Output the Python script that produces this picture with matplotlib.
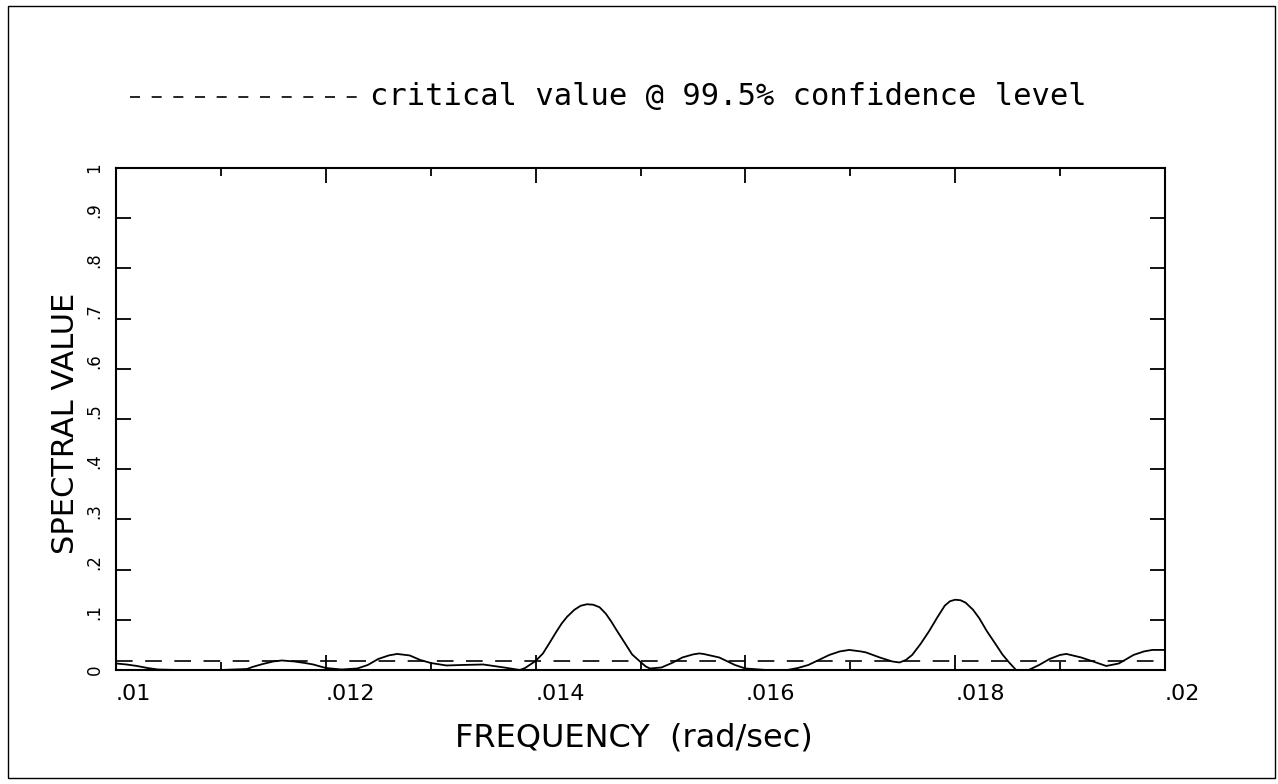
import numpy as np
import matplotlib
matplotlib.use("Agg")
import matplotlib.pyplot as plt
from matplotlib.lines import Line2D
from matplotlib.patches import Rectangle

# --------------------------------------------
# 1. DATA
# --------------------------------------------
freq = [0.0100, 0.0101, 0.0102, 0.0103, 0.0104, 0.0106, 0.0108, 0.0110,
        0.01125, 0.0113, 0.0114, 0.0115, 0.01158, 0.0117, 0.0118, 0.01188,
        0.0120, 0.01215, 0.0123, 0.0124, 0.0125, 0.0126, 0.01268, 0.0128,
        0.0129, 0.0130, 0.01315, 0.0133, 0.0135, 0.0136, 0.0137, 0.01385,
        0.0139, 0.0140, 0.01407, 0.01413, 0.0142, 0.01425, 0.0143, 0.01437,
        0.01443, 0.01449, 0.01455, 0.01461, 0.01467, 0.01472, 0.01477, 0.01485,
        0.01492, 0.0150, 0.01505, 0.01509, 0.0152, 0.0153, 0.0154, 0.0155,
        0.01556, 0.0156, 0.01575, 0.0159, 0.0160, 0.0162, 0.0164, 0.0165,
        0.0166, 0.0167, 0.0168, 0.0169, 0.01699, 0.0171, 0.01715, 0.01728,
        0.0174, 0.01747, 0.01753, 0.01759, 0.01767, 0.01775, 0.01783, 0.0179,
        0.01795, 0.0180, 0.01805, 0.0181, 0.01817, 0.01823, 0.0183, 0.01839,
        0.01845, 0.01851, 0.01858, 0.0187, 0.0188, 0.0189, 0.0190, 0.01906,
        0.0192, 0.0193, 0.01944, 0.01956, 0.0197, 0.0198, 0.01988, 0.0200]
spectral = [0.013, 0.011, 0.008, 0.004, 0.001, 0.0, 0.0, 0.0,
            0.002, 0.006, 0.012, 0.017, 0.019, 0.017, 0.014, 0.011,
            0.004, 0.001, 0.003, 0.010, 0.022, 0.029, 0.032, 0.029,
            0.020, 0.014, 0.009, 0.010, 0.011, 0.008, 0.005, 0.0,
            0.004, 0.018, 0.033, 0.053, 0.077, 0.093, 0.106, 0.120,
            0.128, 0.131, 0.130, 0.125, 0.112, 0.097, 0.080, 0.054,
            0.031, 0.016, 0.007, 0.003, 0.005, 0.014, 0.025, 0.031,
            0.033, 0.032, 0.025, 0.010, 0.003, 0.0, 0.0, 0.004,
            0.010, 0.020, 0.030, 0.037, 0.040, 0.037, 0.035, 0.025,
            0.017, 0.015, 0.020, 0.030, 0.052, 0.077, 0.105, 0.128,
            0.137, 0.140, 0.139, 0.134, 0.120, 0.103, 0.078, 0.050,
            0.031, 0.016, 0.0, 0.0, 0.010, 0.022, 0.030, 0.032,
            0.025, 0.018, 0.008, 0.013, 0.030, 0.037, 0.040, 0.040]
critical_value = 0.018

x_major = [0.010, 0.012, 0.014, 0.016, 0.018, 0.020]
x_minor = [0.011, 0.013, 0.015, 0.017, 0.019]
x_labels = [".01", ".012", ".014", ".016", ".018", ".02"]
y_major = [0.0, 0.1, 0.2, 0.3, 0.4, 0.5, 0.6, 0.7, 0.8, 0.9, 1.0]
y_labels = ["0", ".1", ".2", ".3", ".4", ".5", ".6", ".7", ".8", ".9", "1"]

W, H = 1278, 784

# --------------------------------------------
# 2. FIGURE / AXES
# --------------------------------------------
fig = plt.figure(figsize=(W / 100, H / 100), dpi=100)
ax = fig.add_axes([116 / W, 1 - 670 / H, 1049 / W, 502 / H])

ax.plot(freq, spectral, color="black", lw=1.3)
ax.plot([x_major[0], x_major[-1]], [critical_value, critical_value],
        color="black", lw=1.2, dashes=(10, 7.5))

ax.set_xlim(0.01, 0.02)
ax.set_ylim(0, 1)

for s in ax.spines.values():
    s.set_linewidth(1.5)

ax.set_xticks(x_major)
ax.set_xticks(x_minor, minor=True)
ax.set_xticklabels(x_labels, fontsize=16)
ax.set_yticks(y_major)
ax.set_yticklabels(y_labels, fontsize=12, rotation=90)

ax.tick_params(which="major", direction="in", top=True, right=True,
               length=11, width=1.3)
ax.tick_params(which="minor", direction="in", top=True, length=6, width=1.3)
ax.tick_params(axis="x", pad=10)
ax.tick_params(axis="y", pad=9)

for lbl in ax.get_xticklabels():
    lbl.set_horizontalalignment("left")
for lbl in ax.get_yticklabels():
    if lbl.get_text().startswith("."):
        lbl.set_verticalalignment("bottom")
    else:
        lbl.set_verticalalignment("center")

# --------------------------------------------
# 3. LABELS / LEGEND / BORDER
# --------------------------------------------
fig.text(66 / W, 1 - 423 / H, "SPECTRAL VALUE", rotation=90,
         fontsize=22, ha="center", va="center")
fig.text(634 / W, 1 - 738 / H, "FREQUENCY  (rad/sec)",
         fontsize=23, ha="center", va="center")

fig.add_artist(Line2D([130 / W, 366 / W], [1 - 97 / H, 1 - 97 / H],
                      transform=fig.transFigure, color="black",
                      lw=1.2, dashes=(6, 7)))
fig.text(370 / W, 1 - 97 / H, "critical value @ 99.5% confidence level",
         family="DejaVu Sans Mono", fontsize=22, ha="left", va="center")

fig.add_artist(Rectangle((8 / W, 1 - 778 / H), 1267 / W, 772 / H,
                         transform=fig.transFigure, fill=False,
                         edgecolor="black", lw=1.0))

fig.savefig("out.png", dpi=100)
